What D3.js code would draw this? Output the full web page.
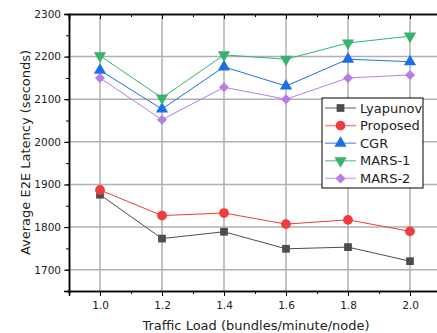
<!DOCTYPE html>
<html>
<head>
<meta charset="utf-8">
<script src="https://cdn.jsdelivr.net/npm/d3@7"></script>
<style>
  body { margin: 0; background: #fff; }
  svg { font-family: "DejaVu Sans", sans-serif; }
</style>
</head>
<body>
<div id="chart"></div>
<script>
  // chart data
  var loads = [1.0, 1.2, 1.4, 1.6, 1.8, 2.0]
  var lyapunov = [1876, 1773, 1789, 1749, 1753, 1720]
  var proposed = [1887, 1827, 1833, 1807, 1817, 1790]
  var cgr = [2168, 2077, 2176, 2131, 2194, 2188]
  var mars1 = [2202, 2103, 2204, 2194, 2232, 2248]
  var mars2 = [2150, 2052, 2128, 2100, 2150, 2157]
  var xTicks = [1.0, 1.2, 1.4, 1.6, 1.8, 2.0]
  var yTicks = [1700, 1800, 1900, 2000, 2100, 2200, 2300]

  var series = [
    {name: "Lyapunov", values: lyapunov, color: "#4d4d4d", symbol: d3.symbolSquare, size: 60, rot: 0},
    {name: "Proposed", values: proposed, color: "#f03c3c", symbol: d3.symbolCircle, size: 75, rot: 0},
    {name: "CGR", values: cgr, color: "#1a6fe6", symbol: d3.symbolTriangle, size: 65, rot: 0},
    {name: "MARS-1", values: mars1, color: "#36b36e", symbol: d3.symbolTriangle, size: 65, rot: 180},
    {name: "MARS-2", values: mars2, color: "#b57ee8", symbol: d3.symbolSquare, size: 50, rot: 45}
  ]

  var width = 437, height = 333
  var plotLeft = 69, plotTop = 14, plotBottom = 291

  var svg = d3.select("#chart").append("svg")
      .attr("width", width)
      .attr("height", height)

  var xScale = d3.scaleLinear().domain([0.9, 2.1]).range([plotLeft, plotLeft + 372])
  var yScale = d3.scaleLinear().domain([1650, 2300]).range([plotBottom, plotTop])
  var plotRight = xScale(2.1)

  // grid lines
  svg.append("g").selectAll("line")
      .data(xTicks)
    .enter().append("line")
      .attr("x1", function(d) { return xScale(d) }).attr("x2", function(d) { return xScale(d) })
      .attr("y1", plotTop).attr("y2", plotBottom)
      .attr("stroke", "#b0b0b0").attr("stroke-width", 1.5)
  svg.append("g").selectAll("line")
      .data(yTicks.slice(0, -1))
    .enter().append("line")
      .attr("y1", function(d) { return yScale(d) }).attr("y2", function(d) { return yScale(d) })
      .attr("x1", plotLeft).attr("x2", plotRight)
      .attr("stroke", "#b0b0b0").attr("stroke-width", 1.5)

  // axes: outward ticks bottom/left, inward on top/right
  var minorX = d3.range(0.9, 2.11, 0.1)
  var minorY = d3.range(1650, 2301, 50)

  var xAxis = d3.axisBottom(xScale).tickValues(xTicks).tickFormat(d3.format(".1f")).tickSize(5).tickPadding(6)
  var yAxis = d3.axisLeft(yScale).tickValues(yTicks).tickFormat(d3.format("d")).tickSize(5).tickPadding(3)

  svg.append("g").attr("transform", "translate(0," + plotBottom + ")").call(xAxis)
  svg.append("g").attr("transform", "translate(" + plotLeft + ",0)").call(yAxis)
  svg.append("g").attr("transform", "translate(0," + plotBottom + ")")
      .call(d3.axisBottom(xScale).tickValues(minorX).tickSize(3).tickFormat(""))
  svg.append("g").attr("transform", "translate(" + plotLeft + ",0)")
      .call(d3.axisLeft(yScale).tickValues(minorY).tickSize(3).tickFormat(""))
  svg.append("g").attr("transform", "translate(0," + plotTop + ")")
      .call(d3.axisBottom(xScale).tickValues(minorX).tickSize(3).tickFormat(""))
  svg.append("g").attr("transform", "translate(" + plotRight + ",0)")
      .call(d3.axisLeft(yScale).tickValues(minorY).tickSize(3).tickFormat(""))
  svg.append("g").attr("transform", "translate(0," + plotTop + ")")
      .call(d3.axisBottom(xScale).tickValues(xTicks).tickSize(5).tickFormat(""))

  svg.selectAll(".domain").attr("stroke", "#000").attr("stroke-width", 1.5)
  svg.selectAll(".tick line").attr("stroke", "#000")
  svg.selectAll(".tick text").attr("font-size", 10.5).attr("fill", "#222").attr("font-family", "DejaVu Sans")

  // axis titles
  svg.append("text")
      .attr("transform", "translate(25," + ((plotTop + plotBottom) / 2) + ") rotate(-90)")
      .attr("text-anchor", "middle")
      .attr("dy", "0.35em")
      .attr("font-size", 13)
      .attr("fill", "#222")
      .text("Average E2E Latency (seconds)")
  svg.append("text")
      .attr("x", 256).attr("y", 325)
      .attr("text-anchor", "middle")
      .attr("dy", "0.35em")
      .attr("font-size", 13)
      .attr("fill", "#222")
      .text("Traffic Load (bundles/minute/node)")

  // lines and markers
  var line = d3.line()
      .x(function(d, i) { return xScale(loads[i]) })
      .y(function(d) { return yScale(d) })

  series.forEach(function(s) {
    svg.append("path")
        .attr("d", line(s.values))
        .attr("fill", "none")
        .attr("stroke", s.color)
        .attr("stroke-width", 1)
    svg.append("g").selectAll("path")
        .data(s.values)
      .enter().append("path")
        .attr("d", d3.symbol().type(s.symbol).size(s.size))
        .attr("transform", function(d, i) {
          return "translate(" + xScale(loads[i]) + "," + yScale(d) + ") rotate(" + s.rot + ")"
        })
        .attr("fill", s.color)
  })

  // legend
  var legend = svg.append("g").attr("transform", "translate(322,98)")
  legend.append("rect")
      .attr("width", 101).attr("height", 90)
      .attr("fill", "#fff").attr("stroke", "#000").attr("stroke-width", 1)
  series.forEach(function(s, i) {
    var ly = 10 + i * 17.6
    legend.append("line")
        .attr("x1", 3).attr("x2", 34).attr("y1", ly).attr("y2", ly)
        .attr("stroke", s.color).attr("stroke-opacity", 0.6).attr("stroke-width", 1.5)
    legend.append("path")
        .attr("d", d3.symbol().type(s.symbol).size(s.size))
        .attr("transform", "translate(18.5," + ly + ") rotate(" + s.rot + ")")
        .attr("fill", s.color)
    legend.append("text")
        .attr("x", 38).attr("y", ly).attr("dy", "0.35em")
        .attr("font-size", 13).attr("fill", "#222")
        .text(s.name)
  })
</script>
</body>
</html>
